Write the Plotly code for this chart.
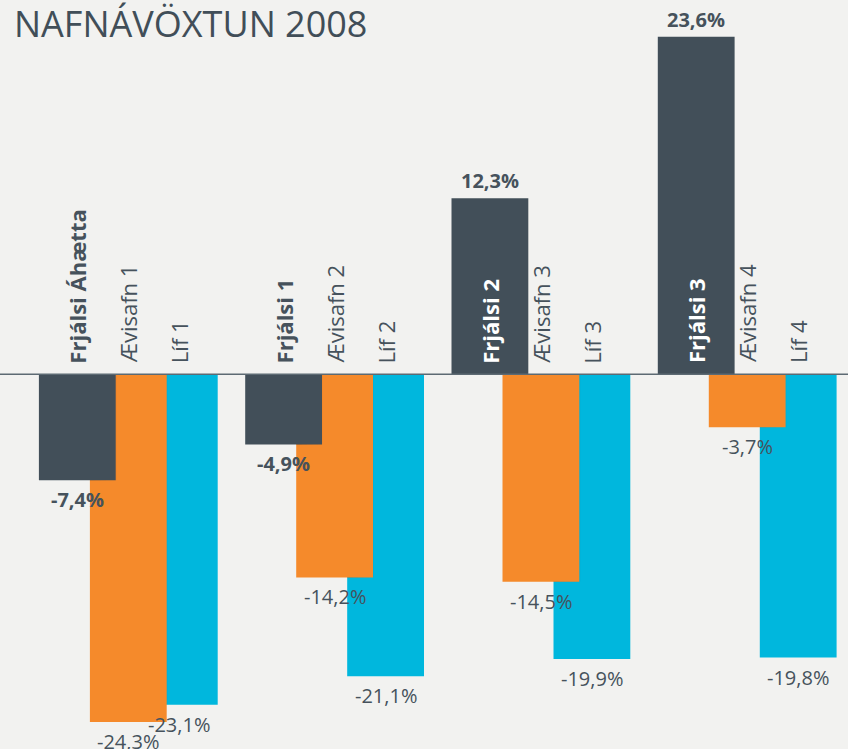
import plotly.graph_objects as go

# ---- data ----
title = "NAFNÁVÖXTUN 2008"
frjalsi_names = ["Frjálsi Áhætta", "Frjálsi 1", "Frjálsi 2", "Frjálsi 3"]
aevisafn_names = ["Ævisafn 1", "Ævisafn 2", "Ævisafn 3", "Ævisafn 4"]
lif_names = ["Líf 1", "Líf 2", "Líf 3", "Líf 4"]
frjalsi_vals = [-7.4, -4.9, 12.3, 23.6]
aevisafn_vals = [-24.3, -14.2, -14.5, -3.7]
lif_vals = [-23.1, -21.1, -19.9, -19.8]

DARK = "#424f59"
ORANGE = "#f58a2b"
CYAN = "#00b7dd"
TXT = "#46525c"
BG = "#f2f2f0"
FONT = "Open Sans"

groups = list(range(len(frjalsi_vals)))
OFF = 0.2472
W = 0.3723

x_dark = [g - OFF for g in groups]
x_or = [g for g in groups]
x_cy = [g + OFF for g in groups]

def fmt(v):
    return f"{v:.1f}".replace(".", ",") + "%"

fig = go.Figure()
fig.add_trace(go.Bar(x=x_cy, y=lif_vals, width=W, marker=dict(color=CYAN, line=dict(width=0)), hoverinfo="skip"))

# soft shadow cast by orange bar on cyan bar
strips = [0.34, 0.24, 0.15, 0.08, 0.03]
sw = W * 0.07
for i, a in enumerate(strips):
    ys = [-min(abs(o), abs(c)) if (o < 0 and c < 0) else 0 for o, c in zip(aevisafn_vals, lif_vals)]
    xs = [g + OFF - W / 2 + sw * (i + 0.5) for g in groups]
    fig.add_trace(go.Bar(x=xs, y=ys, width=sw, marker=dict(color=f"rgba(0,50,70,{a})", line=dict(width=0)), hoverinfo="skip"))

fig.add_trace(go.Bar(x=x_or, y=aevisafn_vals, width=W, marker=dict(color=ORANGE, line=dict(width=0)), hoverinfo="skip"))

# soft shadow cast by dark bar on orange bar
for i, a in enumerate(strips):
    ys = [-min(abs(d), abs(o)) if (d < 0 and o < 0) else 0 for d, o in zip(frjalsi_vals, aevisafn_vals)]
    xs = [g - W / 2 + sw * (i + 0.5) for g in groups]
    fig.add_trace(go.Bar(x=xs, y=ys, width=sw, marker=dict(color=f"rgba(80,35,0,{a})", line=dict(width=0)), hoverinfo="skip"))

fig.add_trace(go.Bar(x=x_dark, y=frjalsi_vals, width=W, marker=dict(color=DARK, line=dict(width=0)), hoverinfo="skip"))

ann = []
# rotated category labels
for xs, names, vals, bold in [(x_dark, frjalsi_names, frjalsi_vals, True),
                              (x_or, aevisafn_names, aevisafn_vals, False),
                              (x_cy, lif_names, lif_vals, False)]:
    for x, n, v in zip(xs, names, vals):
        col = "white" if (bold and v > 0) else TXT
        txt = f"<b>{n}</b>" if bold else n
        ann.append(dict(x=x, y=0, xref="x", yref="y", text=txt, textangle=-90,
                        showarrow=False, xanchor="center", yanchor="bottom", yshift=9,
                        font=dict(family=FONT, size=22, color=col)))
# value labels
for xs, vals, bold in [(x_dark, frjalsi_vals, True), (x_or, aevisafn_vals, False), (x_cy, lif_vals, False)]:
    for x, v in zip(xs, vals):
        t = fmt(v)
        txt = f"<b>{t}</b>" if bold else t
        if v >= 0:
            ann.append(dict(x=x, y=v, xref="x", yref="y", text=txt, showarrow=False,
                            xanchor="center", yanchor="bottom", yshift=2,
                            font=dict(family=FONT, size=20, color=TXT)))
        else:
            ann.append(dict(x=x, y=v, xref="x", yref="y", text=txt, showarrow=False,
                            xanchor="center", yanchor="top", yshift=-4,
                            font=dict(family=FONT, size=20, color=TXT)))

ann.append(dict(x=0, y=1, xref="paper", yref="paper", xshift=12, yshift=3, text=title, showarrow=False,
                xanchor="left", yanchor="top", font=dict(family=FONT, size=36, color="#414e58")))

fig.update_layout(
    width=848, height=749,
    margin=dict(l=0, r=0, t=0, b=0),
    paper_bgcolor=BG, plot_bgcolor="rgba(0,0,0,0)",
    barmode="overlay", showlegend=False,
    xaxis=dict(range=[-0.6219, 3.4886], visible=False, fixedrange=True),
    yaxis=dict(range=[-26.19, 26.166], visible=False, fixedrange=True),
    annotations=ann,
    shapes=[dict(type="line", xref="paper", yref="y", x0=0, x1=1, y0=0, y1=0,
                 line=dict(color="#5d6a73", width=1.5), layer="above")],
)
fig.write_html("out.html", config={"displayModeBar": False},
               post_script="document.body.style.margin='0';document.body.style.overflow='hidden';document.body.style.background='%s';" % BG)
